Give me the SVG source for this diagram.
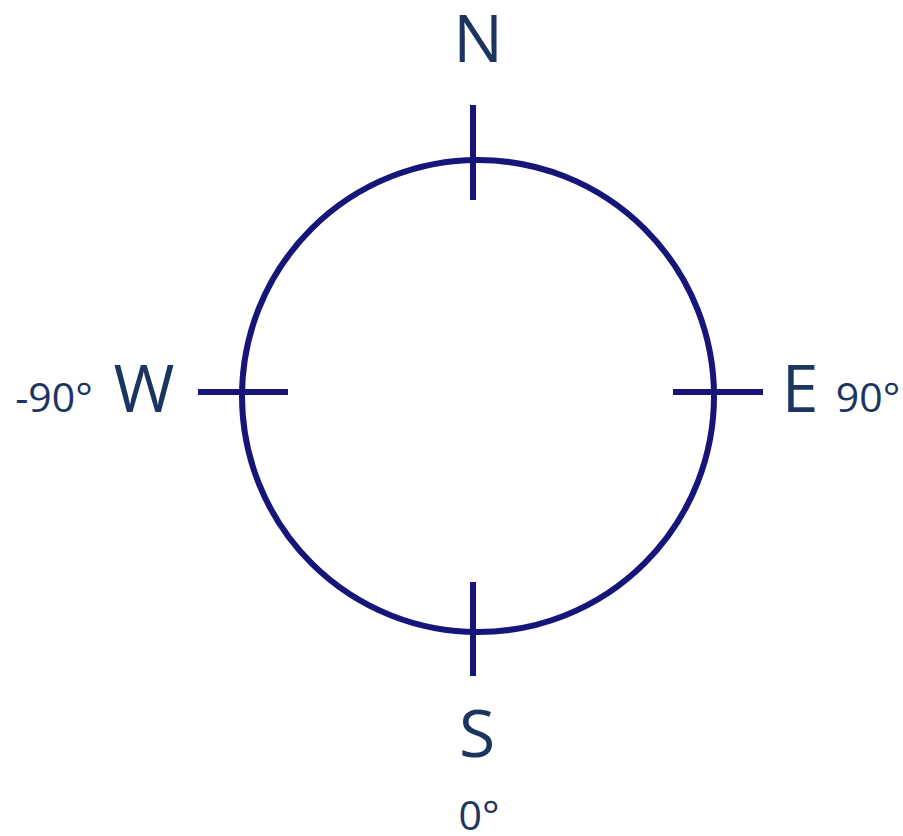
<svg xmlns="http://www.w3.org/2000/svg" width="903" height="836" viewBox="0 0 903 836">
<style>
.ln{stroke:#16167a;stroke-width:6;fill:none}
.big{font-family:"Open Sans","Noto Sans",sans-serif;font-size:66px;fill:#1c3560}
.sm{font-family:"Open Sans","Noto Sans",sans-serif;font-size:41px;fill:#1c3560}
</style>
<rect width="903" height="836" fill="#fff"/>
<g id="circle"><circle class="ln" cx="478" cy="396" r="236"/></g>
<g id="connectors">
<line class="ln" x1="473" y1="105" x2="473" y2="200"/>
<line class="ln" x1="473" y1="582" x2="473" y2="676"/>
<line class="ln" x1="198" y1="392" x2="288" y2="392"/>
<line class="ln" x1="673" y1="392" x2="763" y2="392"/>
</g>
<g id="north"><text class="big" x="478" y="62" text-anchor="middle">N</text></g>
<g id="west"><text class="big" x="144" y="412" text-anchor="middle">W</text><text class="sm" x="54" y="412" text-anchor="middle">-90°</text></g>
<g id="east"><text class="big" x="800" y="412" text-anchor="middle">E</text><text class="sm" x="868" y="412" text-anchor="middle">90°</text></g>
<g id="south"><text class="big" x="477" y="757" text-anchor="middle">S</text><text class="sm" x="479" y="830" text-anchor="middle">0°</text></g>
</svg>
